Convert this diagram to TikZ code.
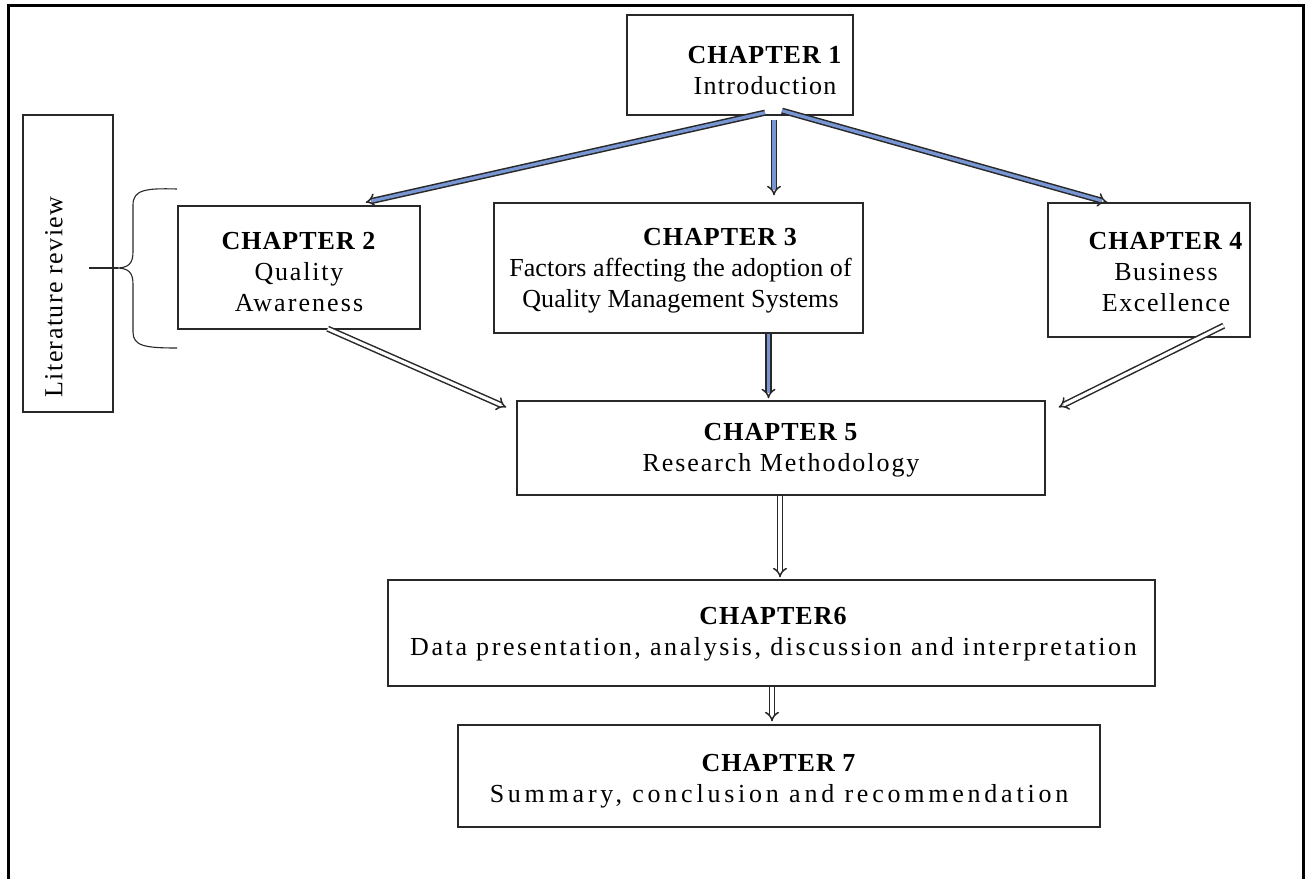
\documentclass[tikz,border=0pt]{standalone}
\usepackage{fontspec}
\setmainfont{Liberation Serif}[LetterSpace=6]
\usetikzlibrary{arrows.meta,calc}
\definecolor{arrblue}{RGB}{120,150,212}
\definecolor{edge}{RGB}{40,40,40}
% a run of text set with its own letter spacing
\newcommand\trk[2]{{\addfontfeatures{LetterSpace=#1}#2}}
\begin{document}
\begin{tikzpicture}[x=1pt,y=-1pt,
  box/.style={draw=edge, line width=1.4pt, fill=white, inner sep=0pt},
  txt/.style={align=center, inner sep=0pt, font=\fontsize{26}{31}\selectfont},
  arr/.style={draw=edge, line width=1.5pt, double distance=3.2pt, -{Implies}},
  bluearr/.style={arr, double=arrblue},
  whitearr/.style={arr, double=white},
]
\useasboundingbox (0,0) rectangle (1305,878);
% outer frame
\draw[line width=3pt] (8,890) -- (8,5) -- (1303,5) -- (1303,890);

% chapter boxes
\node[box, minimum width=226, minimum height=100] (ch1) at (740,65) {};
\node[box, minimum width=242, minimum height=123] (ch2) at (299,267.5) {};
\node[box, minimum width=369, minimum height=130] (ch3) at (678.5,268) {};
\node[box, minimum width=202, minimum height=134] (ch4) at (1149,270) {};
\node[box, minimum width=528, minimum height=94] (ch5) at (781,448) {};
\node[box, minimum width=767, minimum height=106] (ch6) at (771.5,633) {};
\node[box, minimum width=642, minimum height=102] (ch7) at (779,776) {};

% box texts
\node[txt] (ch1t) at ([xshift=25pt,yshift=-6pt]ch1.center)
  {\textbf{\trk{4}{CHAPTER 1}}\\\trk{5}{Introduction}};
\node[txt] (ch2t) at ([yshift=-5pt]ch2.center)
  {\textbf{\trk{4}{CHAPTER 2}}\\\trk{7}{Quality}\\\trk{8}{Awareness}};
\node[txt] (ch3t) at ([xshift=2pt,yshift=-3pt]ch3.center)
  {\hspace*{80pt}\textbf{\trk{4}{CHAPTER 3}}\\\trk{0.5}{Factors affecting the adoption of}\\\trk{0.5}{Quality Management Systems}};
\node[txt] (ch4t) at ([xshift=17pt,yshift=-2pt]ch4.center)
  {\textbf{\trk{4}{CHAPTER 4}}\\\trk{6}{Business}\\\trk{6}{Excellence}};
\node[txt] (ch5t) at ([yshift=-2pt]ch5.center)
  {\textbf{\trk{4}{CHAPTER 5}}\\\trk{7.5}{Research Methodology}};
\node[txt] (ch6t) at ([xshift=2pt,yshift=-1pt]ch6.center)
  {\textbf{\trk{4}{CHAPTER6}}\\\trk{10}{Data presentation, analysis, discussion and interpretation}};
\node[txt] (ch7t) at ([xshift=0pt,yshift=-5pt]ch7.center)
  {\textbf{\trk{4}{CHAPTER 7}}\\\trk{14.5}{Summary, conclusion and recommendation}};

% literature review side box with its brace
\node[box, minimum width=90, minimum height=297] (lit) at (68,263.5) {};
\node[txt, rotate=90] (litt) at (54,297) {\trk{5.5}{Literature review}};
\draw[edge, line width=1.1pt]
  (177,189) .. controls (145,188) and (133,190) .. (133,205)
  -- (133,252) .. controls (133,264) and (128,268) .. (116,268)
  .. controls (128,268) and (133,272) .. (133,284)
  -- (133,332) .. controls (133,346) and (145,348) .. (177,348);
\draw[edge, line width=1.1pt] (89,268) -- (118,268);

% connectors
\coordinate (o2) at ([xshift=25pt,yshift=3pt]ch1.south);
\coordinate (o3) at ([xshift=34pt,yshift=-4pt]ch1.south);
\coordinate (o4) at ([xshift=42pt,yshift=5pt]ch1.south);
\draw[bluearr] (o2) -- ([xshift=-55pt,yshift=3pt]ch2.north east);
\draw[bluearr, shorten >=7pt] (o3) -- (o3 |- ch3.north);
\draw[bluearr] (o4) -- ([xshift=60pt]ch4.north west);

\coordinate (i2) at ([xshift=-93pt,yshift=1pt]ch2.south east);
\coordinate (i3) at ([xshift=90pt]ch3.south);
\coordinate (i4) at ([xshift=-27pt,yshift=12pt]ch4.south east);
\draw[whitearr] (i2) -- ([xshift=-10pt,yshift=-7pt]ch5.north west);
\draw[bluearr, shorten >=2pt] (i3) -- (i3 |- ch5.north);
\draw[whitearr] (i4) -- ([xshift=13pt,yshift=-7pt]ch5.north east);

\coordinate (i6) at ([xshift=-1pt]ch5.south);
\draw[whitearr, shorten >=2pt] (i6) -- (i6 |- ch6.north);
\coordinate (i7) at ([xshift=0.5pt]ch6.south);
\draw[whitearr, shorten >=3pt] (i7) -- (i7 |- ch7.north);
\end{tikzpicture}
\end{document}
